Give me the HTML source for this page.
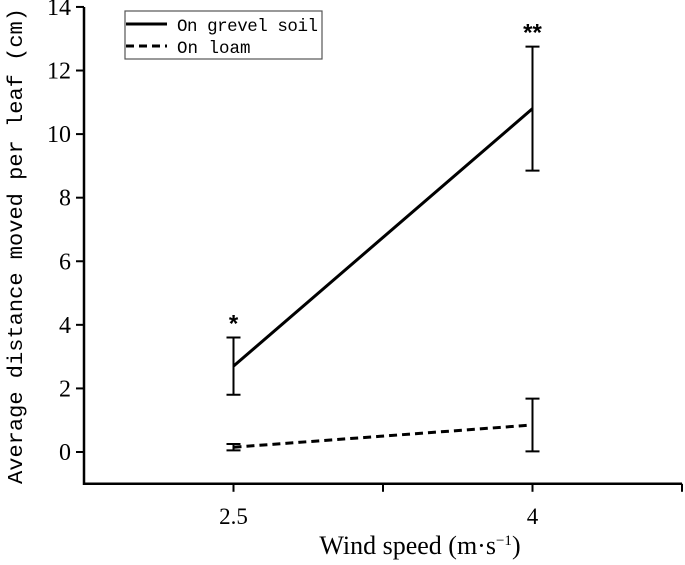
<!DOCTYPE html>
<html><head><meta charset="utf-8"><style>
body{margin:0;background:#fff;}
svg text{fill:#000;}
</style></head><body>
<svg width="685" height="560" xmlns="http://www.w3.org/2000/svg" id="c">
</svg>
<script>
const xCats=[2.5,4];
const gravel=[2.7,10.8];
const gravelErr=[0.9,1.95];
const loam=[0.15,0.85];
const loamErr=[0.1,0.83];
const yTicks=[0,2,4,6,8,10,12,14];
const xTicks=[2.5,3.25,4,4.75];
const xTickLabels=['2.5','','4',''];
const NS='http://www.w3.org/2000/svg';
const svg=document.getElementById('c');
const x=v=>84+(v-1.75)*199.33;
const y=v=>452-v*31.79;
function mk(t,a,p){const e=document.createElementNS(NS,t);for(const k in a)e.setAttribute(k,a[k]);(p||svg).appendChild(e);return e;}
let ax=mk('path',{d:`M${x(1.75)},${y(14)}V${y(-1)}H${x(4.75)}`,fill:'none',stroke:'#000','stroke-width':2.5});


yTicks.forEach(t=>{
 const l=mk('line',{x1:76,x2:84,y1:y(t),y2:y(t),stroke:'#000','stroke-width':2});
 
 
 const tx=mk('text',{x:71,y:y(t)+8,'text-anchor':'end','font-family':'Liberation Serif, serif','font-size':24});
 tx.textContent=t;
 
 
});
xTicks.forEach((t,i)=>{
 const l=mk('line',{x1:x(t),x2:x(t),y1:y(-1),y2:y(-1)+8,stroke:'#000','stroke-width':2});
 
 
 if(xTickLabels[i]){
 const tx=mk('text',{x:x(t),y:y(-1)+40,'text-anchor':'middle','font-family':'Liberation Serif, serif','font-size':23});
 tx.textContent=xTickLabels[i];
 
 }
});
function series(vals,errs,dash,name){
 const pl=mk('polyline',{points:vals.map((v,i)=>x(xCats[i])+','+y(v)).join(' '),fill:'none',stroke:'#000','stroke-width':3,'stroke-dasharray':dash});
 
 
 vals.forEach((v,i)=>{
  const cx=x(xCats[i]),t=y(v+errs[i]),b=y(v-errs[i]);
  const e=mk('path',{d:`M${cx},${t}V${b}M${cx-7},${t}H${cx+7}M${cx-7},${b}H${cx+7}`,stroke:'#000','stroke-width':2,fill:'none'});
  
  
 });
}
series(gravel,gravelErr,'none','gravel');
series(loam,loamErr,'8 5','loam');
[['*',0],['**',1]].forEach(([s,i])=>{
 const tx=mk('text',{x:x(xCats[i]),y:y(gravel[i]+gravelErr[i])-6,'text-anchor':'middle','font-family':'Liberation Sans, sans-serif','font-size':24,'font-weight':'bold'});
 tx.textContent=s;
 
 
});
</script>
<svg width="685" height="560" style="position:absolute;left:0;top:0" xmlns="http://www.w3.org/2000/svg">
<g>
<rect x="125" y="11" width="197" height="48" fill="#fff" stroke="#555" stroke-width="1.2"/>
<line x1="126" y1="24" x2="167" y2="24" stroke="#000" stroke-width="3"/>
<line x1="126" y1="46" x2="167" y2="46" stroke="#000" stroke-width="3" stroke-dasharray="8 5"/>
<text x="177" y="31" font-family="Liberation Mono, monospace" font-size="17.5" textLength="141">On grevel soil</text>
<text x="177" y="53" font-family="Liberation Mono, monospace" font-size="17.5">On loam</text>
</g>
<text transform="translate(22,246) rotate(-90)" text-anchor="middle" font-family="Liberation Mono, monospace" font-size="21" textLength="476" lengthAdjust="spacingAndGlyphs">Average distance moved per leaf (cm)</text>
<text x="420" y="554" text-anchor="middle" font-family="Liberation Serif, serif" font-size="26">Wind speed (m·s<tspan font-size="15" dy="-9">−1</tspan><tspan dy="9">)</tspan></text>
</svg>
</body></html>
